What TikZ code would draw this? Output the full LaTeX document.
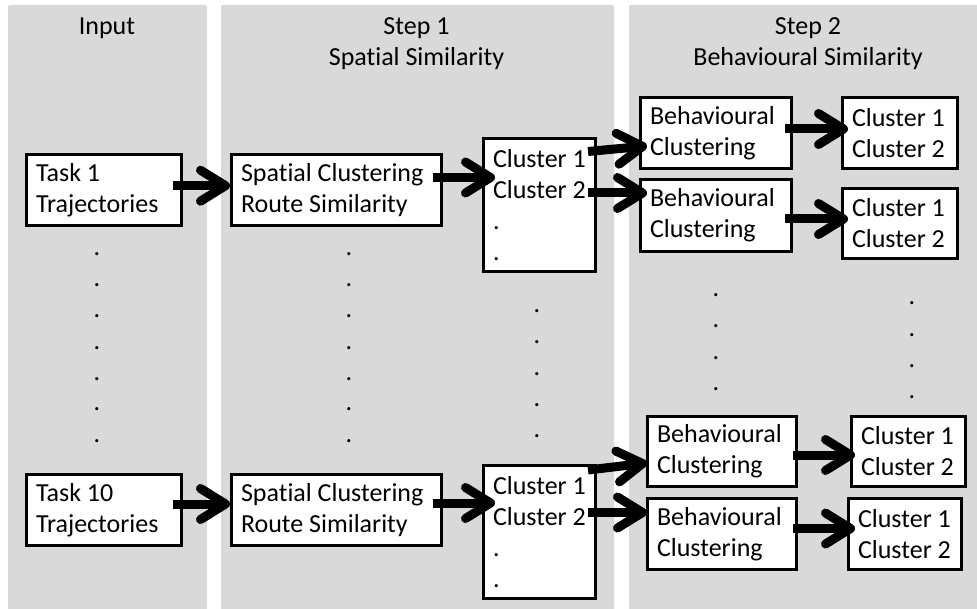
\documentclass[tikz,border=0pt]{standalone}
\usepackage{fontspec}
\setmainfont{Carlito}[Ligatures=NoCommon]
\usetikzlibrary{arrows.meta}
\definecolor{panelgray}{HTML}{D9D9D9}
\begin{document}
\begin{tikzpicture}[x=1pt,y=-1pt,
  panel/.style={fill=panelgray, draw=none, rounded corners=2pt},
  box/.style={draw=black, line width=3pt, fill=white, inner xsep=9.5pt, inner ysep=0pt, align=flush left, font=\fontsize{26}{31}\selectfont},
  hdr/.style={inner sep=0pt, anchor=base, font=\fontsize{26}{31}\selectfont},
  vdot/.style={inner sep=0pt, anchor=base, yshift=-1.7pt, font=\fontsize{26}{31}\selectfont},
  arr/.style={line width=9pt, -{Straight Barb[length=25pt, width=31pt, round]}}
]
\useasboundingbox[fill=white] (0,0) rectangle (977,609);
% panels
\fill[panel] (8,5) rectangle (207,612);
\fill[panel] (221,5) rectangle (614,612);
\fill[panel] (629,5) rectangle (990,612);
% headers
\node[hdr] (h1) at (107,35) {Input};
\node[hdr] (h2a) at (416.5,35) {Step 1};
\node[hdr] (h2b) at (416.5,66) {Spatial Similarity};
\node[hdr] (h3a) at (808,35) {Step 2};
\node[hdr] (h3b) at (808,66) {Behavioural Similarity};
% input boxes
\node[box, text width=136pt, minimum height=71pt] (t1) at (104,190) {Task~1\\Trajectories};
\node[box, text width=136pt, minimum height=71pt] (t10) at (104,510) {Task~10\\Trajectories};
% spatial boxes
\node[box, text width=191pt, minimum height=71pt] (s1) at (336.5,190) {Spatial~Clustering\\Route~Similarity};
\node[box, text width=191pt, minimum height=71pt] (s10) at (336.5,510) {Spatial~Clustering\\Route~Similarity};
% cluster boxes
\node[box, text width=93pt, minimum height=133pt] (c1) at (539.5,205) {Cluster~1\\Cluster~2\\.\\.};
\node[box, text width=93pt, minimum height=133pt] (c10) at (539.5,532) {Cluster~1\\Cluster~2\\.\\.};
% behavioural boxes
\node[box, text width=132pt, minimum height=71pt] (b1) at (716,133) {Behavioural\\Clustering};
\node[box, text width=132pt, minimum height=72pt] (b2) at (716,215.5) {Behavioural\\Clustering};
\node[box, text width=130pt, minimum height=70pt] (b3) at (722,451.5) {Behavioural\\Clustering};
\node[box, text width=130pt, minimum height=71pt] (b4) at (722,534) {Behavioural\\Clustering};
% result boxes
\node[box, text width=96pt, minimum height=71pt] (r1) at (900,133) {Cluster~1\\Cluster~2};
\node[box, text width=96pt, minimum height=70pt] (r2) at (900,223.5) {Cluster~1\\Cluster~2};
\node[box, text width=95pt, minimum height=70pt] (r3) at (908.5,451.5) {Cluster~1\\Cluster~2};
\node[box, text width=94pt, minimum height=71pt] (r4) at (905,534) {Cluster~1\\Cluster~2};
% vertical dots
\foreach \y [count=\i] in {254,285,316,348,379,409,441} {
  \node[vdot] (da\i) at (97,\y) {.};
  \node[vdot] (db\i) at (349,\y) {.};
}
\foreach \y [count=\i] in {311,342,374,405,436} {
  \node[vdot] (dc\i) at (537,\y) {.};
}
\foreach \y [count=\i] in {295,326,358,389} {
  \node[vdot] (dd\i) at (716,\y) {.};
}
\foreach \y [count=\i] in {303,335,366,397} {
  \node[vdot] (de\i) at (912,\y) {.};
}
% arrows
\draw[arr] ([xshift=-10pt,yshift=4.3pt]t1.east) -- ([yshift=4.3pt]s1.west);
\draw[arr] ([xshift=-10pt,yshift=12.5pt]s1.east) -- ([xshift=13pt,yshift=27.5pt]c1.west);
\draw[arr] ([xshift=-10pt,yshift=6pt]t10.east) -- ([yshift=6pt]s10.west);
\draw[arr] ([xshift=-10pt,yshift=7pt]s10.east) -- ([xshift=13pt,yshift=29pt]c10.west);
\draw[arr] ([xshift=-9pt,yshift=53.5pt]c1.east) -- ([xshift=8pt,yshift=-13pt]b1.west);
\draw[arr] ([xshift=-9pt,yshift=12pt]c1.east) -- ([xshift=8pt,yshift=22.5pt]b2.west);
\draw[arr] ([xshift=-8pt,yshift=4pt]b1.east) -- ([xshift=7pt,yshift=4pt]r1.west);
\draw[arr] ([xshift=-8pt,yshift=-3.5pt]b2.east) -- ([xshift=7pt,yshift=4.5pt]r2.west);
\draw[arr] ([xshift=-9pt,yshift=62pt]c10.east) -- ([xshift=1pt,yshift=-11.5pt]b3.west);
\draw[arr] ([xshift=-9pt,yshift=19.5pt]c10.east) -- ([xshift=1pt,yshift=21.5pt]b4.west);
\draw[arr] ([xshift=-5pt,yshift=-3.5pt]b3.east) -- ([xshift=5pt,yshift=-3.5pt]r3.west);
\draw[arr] ([xshift=-5pt,yshift=5.5pt]b4.east) -- ([xshift=8pt,yshift=5.5pt]r4.west);
\end{tikzpicture}
\end{document}
